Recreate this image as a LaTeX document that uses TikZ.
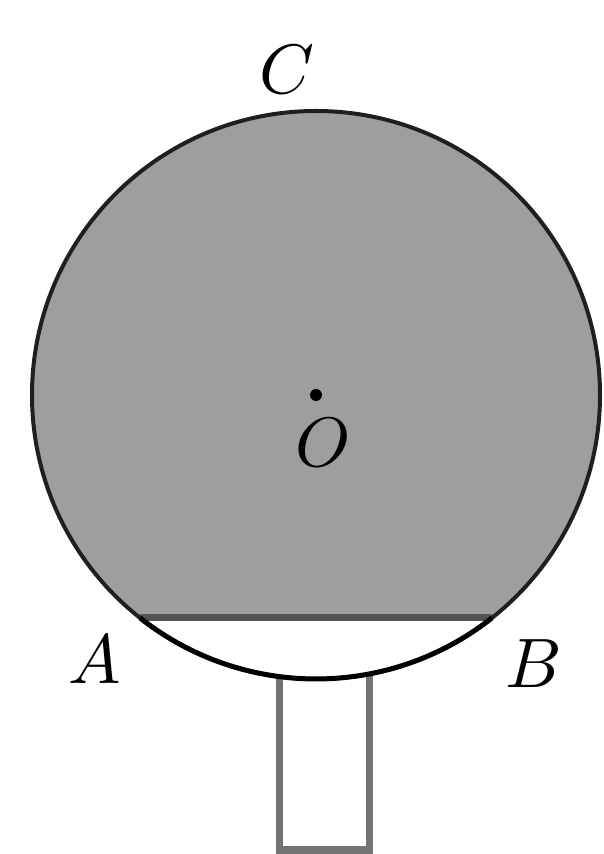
\documentclass[tikz,border=0pt]{standalone}
\usetikzlibrary{calc}
\begin{document}
\begin{tikzpicture}[x=1pt,y=1pt,
  lbl/.style={inner sep=0pt,font=\normalsize,scale=7},
  rim/.style={draw=black!88,line width=4pt},
  chordline/.style={draw=black!68,line width=7pt},
  handle/.style={draw=black!55,line width=7pt}]
\definecolor{padgray}{RGB}{158,158,158}
\useasboundingbox (0,0) rectangle (603,854);
\coordinate (O) at (316,459);
\coordinate (A) at ($(O)+(231.73:284)$);
\coordinate (B) at ($(O)+(-51.73:284)$);
% handle
\draw[handle] (279,178) -- (279,4) -- (369,4) -- (369,178);
% shaded part above the chord
\fill[padgray] (B) arc[start angle=-51.73,end angle=231.73,radius=284] -- cycle;
\draw[chordline] (A) -- (B);
\draw[rim] (O) circle[radius=284];
\draw[draw=black,line width=5pt] (A) arc[start angle=231.73,end angle=308.27,radius=284];
\fill[black] (O) circle[radius=6];
\node[lbl] (lC) at (287,784) {$C$};
\node[lbl] (lO) at (323,411) {$O$};
\node[lbl] (lA) at (95,194) {$A$};
\node[lbl] (lB) at (534,190) {$B$};
\end{tikzpicture}
\end{document}
